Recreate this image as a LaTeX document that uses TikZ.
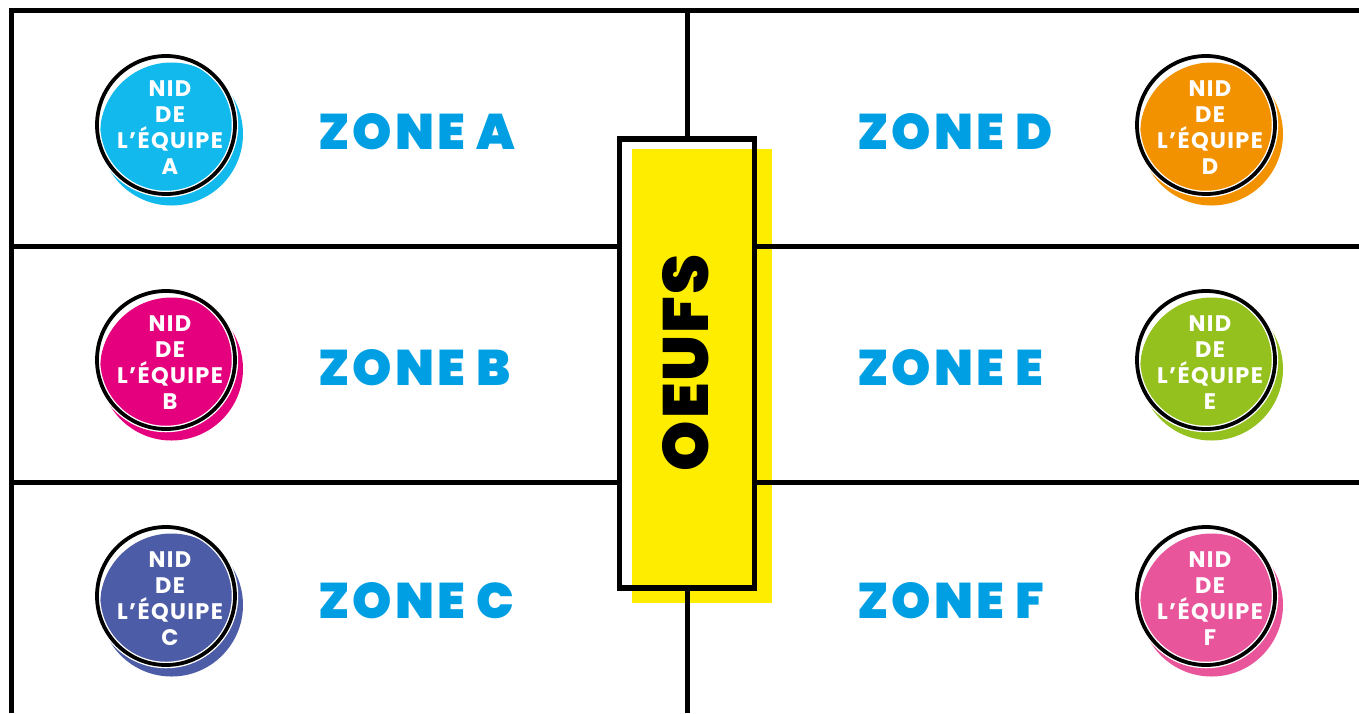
\documentclass[tikz,border=0pt]{standalone}
\usepackage{fontspec}
\setmainfont{Poppins}
\newfontfamily\zonefont{Poppins Black}[LetterSpace=6]
\newfontfamily\eggfont{Poppins Black}[LetterSpace=3]
\newfontfamily\nidfont{Poppins Bold}[LetterSpace=6]
\definecolor{cA}{RGB}{17,185,236}
\definecolor{cB}{RGB}{229,0,125}
\definecolor{cC}{RGB}{77,92,166}
\definecolor{cD}{RGB}{243,146,0}
\definecolor{cE}{RGB}{149,193,31}
\definecolor{cF}{RGB}{232,85,154}
\definecolor{zoneblue}{RGB}{0,159,227}
\definecolor{eggyellow}{RGB}{255,237,0}
\tikzset{
  frame/.style={line width=5pt, black},
  disc/.style={circle, inner sep=0pt, minimum size=143pt},
  ring/.style={circle, inner sep=0pt, minimum size=138pt, draw=black, line width=3.8pt},
  ringhalo/.style={circle, inner sep=0pt, minimum size=138pt, draw=white, line width=6.5pt},
  nidtext/.style={align=center, text=white, font=\nidfont\fontsize{22.5}{26}\selectfont, inner sep=0pt},
  zonelabel/.style={anchor=west, text=zoneblue, font=\zonefont\fontsize{50}{50}\selectfont, inner sep=0pt},
}
\begin{document}
\begin{tikzpicture}[x=1pt,y=-1pt]
\useasboundingbox (0,0) rectangle (1359,713);
% egg box yellow
\fill[eggyellow] (632,149) rectangle (772,603);
% frame lines
\coordinate (tl) at (11.5,10.5);
\coordinate (tr) at (1359,10.5);
\coordinate (bl) at (11.5,713);
\coordinate (vt) at (687,10.5);
\coordinate (vb) at (687,713);
\coordinate (h1l) at (11.5,246);
\coordinate (h1r) at (1359,246);
\coordinate (h2l) at (11.5,482);
\coordinate (h2r) at (1359,482);
\node[draw=none, fill=none, minimum width=134.5pt, minimum height=449pt, inner sep=0pt] (box) at (687,363.5) {};
\draw[frame] (bl) -- (tl) -- (tr);
\draw[frame] (vt) -- (vt |- box.north);
\draw[frame] (vb) -- (vb |- box.south);
\draw[frame] (h1l) -- (h1l -| box.west);
\draw[frame] (h1r) -- (h1r -| box.east);
\draw[frame] (h2l) -- (h2l -| box.west);
\draw[frame] (h2r) -- (h2r -| box.east);
\draw[line width=5.5pt] (box.south west) rectangle (box.north east);
\node[rotate=90, font=\eggfont\fontsize{64}{64}\selectfont, inner sep=0pt] (oeufs) at (686,363) {OEUFS};
% zones
\node[zonelabel] (zA) at (318,132) {ZONE A};
\node[zonelabel] (zB) at (318,368) {ZONE B};
\node[zonelabel] (zC) at (318,601) {ZONE C};
\node[zonelabel] (zD) at (857,132) {ZONE D};
\node[zonelabel] (zE) at (857,368) {ZONE E};
\node[zonelabel] (zF) at (857,601) {ZONE F};
% nests
\foreach \n/\c/\x/\y in {A/cA/166/125, B/cB/166/360, C/cC/166/596, D/cD/1206/125, E/cE/1206/360, F/cF/1206/596}{
  \node[disc, fill=\c] (d\n) at (\x+5.5,\y+9) {};
  \node[ringhalo] (h\n) at (\x,\y) {};
  \node[ring] (r\n) at (\x,\y) {};
  \node[nidtext] (t\n) at (\x+4,\y+3) {NID\\DE\\L’ÉQUIPE\\\n};
}
\end{tikzpicture}
\end{document}
